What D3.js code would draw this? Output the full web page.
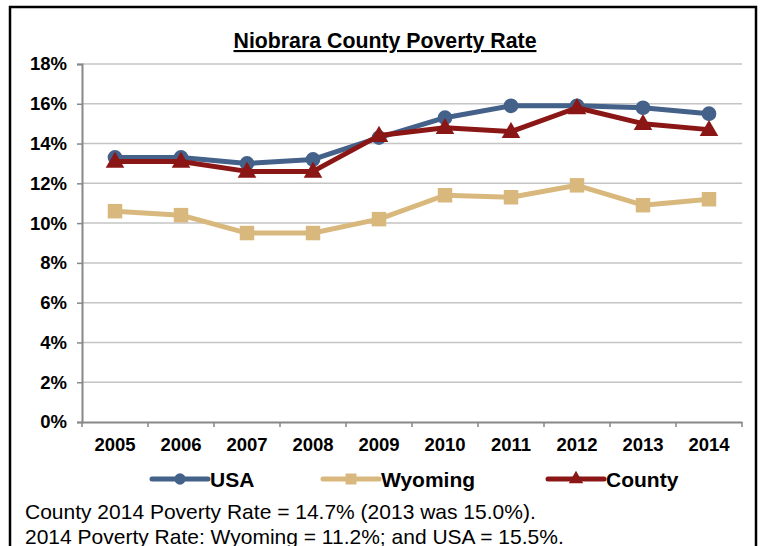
<!DOCTYPE html>
<html>
<head>
<meta charset="utf-8">
<script src="https://cdn.jsdelivr.net/npm/d3@7"></script>
<style>
  html, body { margin: 0; padding: 0; background: #fff; }
  svg { display: block; font-family: "Liberation Sans", Arial, sans-serif; }
</style>
</head>
<body>
<svg id="chart" width="762" height="546"></svg>
<script>
const years = ["2005","2006","2007","2008","2009","2010","2011","2012","2013","2014"];
const usa     = [13.3, 13.3, 13.0, 13.2, 14.3, 15.3, 15.9, 15.9, 15.8, 15.5];
const wyoming = [10.6, 10.4, 9.5, 9.5, 10.2, 11.4, 11.3, 11.9, 10.9, 11.2];
const county  = [13.1, 13.1, 12.6, 12.6, 14.4, 14.8, 14.6, 15.8, 15.0, 14.7];
const yTicks  = [0, 2, 4, 6, 8, 10, 12, 14, 16, 18];
const seriesNames = ["USA", "Wyoming", "County"];
const titleText = "Niobrara County Poverty Rate";
const noteLines = [
  "County 2014 Poverty Rate = 14.7% (2013 was 15.0%).",
  "2014 Poverty Rate: Wyoming = 11.2%; and USA = 15.5%."
];

const colors = { USA: "#44618A", Wyoming: "#D9B87E", County: "#8B1616" };
const seriesData = { USA: usa, Wyoming: wyoming, County: county };
const markerType = { USA: d3.symbolCircle, Wyoming: d3.symbolSquare, County: d3.symbolTriangle };

const svg = d3.select("#chart");

// outer frame
svg.append("rect").attr("x", 10).attr("y", 7).attr("width", 746).attr("height", 560)
  .attr("fill", "none").attr("stroke", "#000").attr("stroke-width", 2.5);

const plotL = 82, plotR = 742, plotT = 64, plotB = 422;

const x = d3.scaleBand().domain(years).range([plotL, plotR]);
const y = d3.scaleLinear().domain([0, 18]).range([plotB, plotT]);

// title
svg.append("text").attr("x", 385).attr("y", 48).attr("text-anchor", "middle")
  .attr("font-size", 21.3).attr("font-weight", "bold").attr("text-decoration", "underline")
  .attr("fill", "#000").text(titleText);

// gridlines
svg.append("g").selectAll("line").data(yTicks.filter(d => d > 0)).join("line")
  .attr("x1", plotL).attr("x2", plotR)
  .attr("y1", d => y(d)).attr("y2", d => y(d))
  .attr("stroke", "#c4c4c4").attr("stroke-width", 1.5);

// y axis
const yAxis = d3.axisLeft(y).tickValues(yTicks).tickFormat(d => d + "%").tickSize(5).tickPadding(10);
const gy = svg.append("g").attr("transform", `translate(${plotL},0)`).call(yAxis);
gy.select(".domain").attr("stroke", "#878787").attr("stroke-width", 2);
gy.selectAll(".tick line").attr("stroke", "#878787").attr("stroke-width", 1.5);
gy.selectAll(".tick text").attr("font-size", 18.5).attr("font-weight", "bold")
  .attr("fill", "#000").attr("font-family", "Liberation Sans, Arial, sans-serif");

// x axis
const xAxis = d3.axisBottom(x).tickSize(0).tickPadding(0);
const gx = svg.append("g").attr("transform", `translate(0,${plotB})`).call(xAxis);
gx.select(".domain").attr("stroke", "#878787").attr("stroke-width", 2);
gx.selectAll(".tick text").attr("font-size", 18.5).attr("font-weight", "bold")
  .attr("fill", "#000").attr("dy", null).attr("y", 29)
  .attr("font-family", "Liberation Sans, Arial, sans-serif");
// category boundary ticks
const bounds = years.map(d => x(d)).concat([x(years[years.length - 1]) + x.bandwidth()]);
gx.selectAll(".bound").data(bounds).join("line").attr("class", "bound")
  .attr("x1", d => d).attr("x2", d => d).attr("y1", 0).attr("y2", 5)
  .attr("stroke", "#878787").attr("stroke-width", 1.5);

const cx = d => x(d) + x.bandwidth() / 2;
const line = d3.line().x(d => cx(d.year)).y(d => y(d.v));

seriesNames.forEach(name => {
  const pts = years.map((yr, i) => ({ year: yr, v: seriesData[name][i] }));
  const g = svg.append("g");
  g.append("path").datum(pts).attr("d", line).attr("fill", "none")
    .attr("stroke", colors[name]).attr("stroke-width", 5).attr("stroke-linejoin", "round");
  const size = name === "USA" ? 170 : (name === "Wyoming" ? 210 : 150);
  const sym = d3.symbol().type(markerType[name]).size(size);
  g.selectAll("path.m").data(pts).join("path").attr("class", "m")
    .attr("d", sym)
    .attr("transform", d => `translate(${cx(d.year)},${y(d.v) + (name === "County" ? 1 : 0)})`)
    .attr("fill", colors[name]);
});

// legend
const legendX = [152, 323, 548];
seriesNames.forEach((name, i) => {
  const g = svg.append("g").attr("transform", `translate(${legendX[i]},479)`);
  g.append("line").attr("x1", 0).attr("x2", 56).attr("y1", 0).attr("y2", 0)
    .attr("stroke", colors[name]).attr("stroke-width", 5).attr("stroke-linecap", "round");
  const size = name === "USA" ? 100 : (name === "Wyoming" ? 120 : 90);
  g.append("path").attr("d", d3.symbol().type(markerType[name]).size(size))
    .attr("transform", "translate(28,0)").attr("fill", colors[name]);
  g.append("text").attr("x", 58).attr("y", 7.5).attr("font-size", 21)
    .attr("font-weight", "bold").attr("fill", "#000").text(name);
});

// notes
svg.append("g").selectAll("text").data(noteLines).join("text")
  .attr("x", 25).attr("y", (d, i) => 519 + i * 25)
  .attr("font-size", 21).attr("fill", "#000").text(d => d);
</script>
</body>
</html>
